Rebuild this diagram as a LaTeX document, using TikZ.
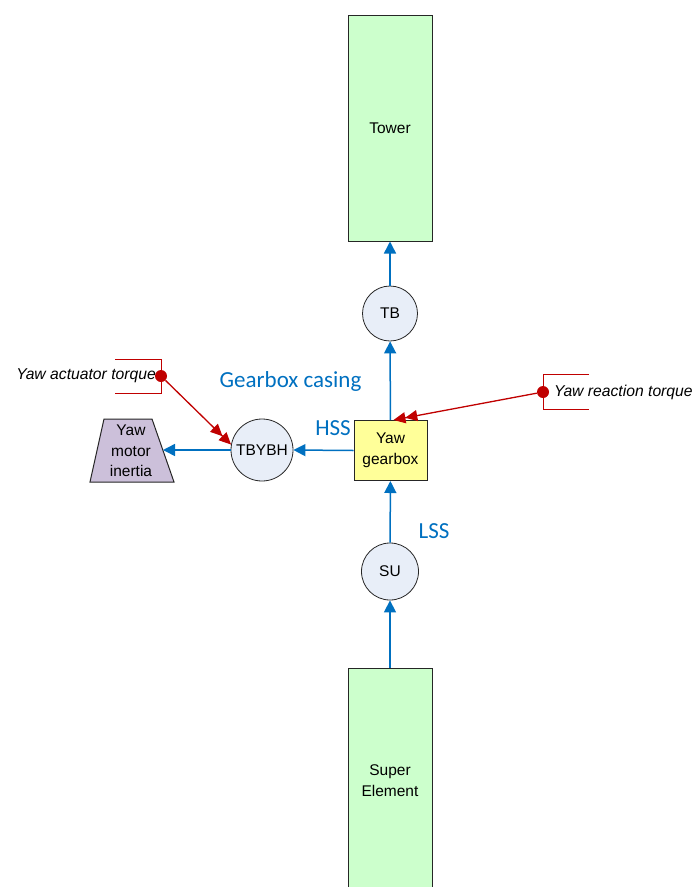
\documentclass[tikz,border=0pt]{standalone}
\usepackage{fontspec}
\setmainfont{Liberation Sans}
\newfontfamily\calibrifont{Carlito}
\usetikzlibrary{arrows.meta}
\definecolor{bluel}{RGB}{0,112,192}
\definecolor{redl}{RGB}{192,0,0}
\definecolor{greenf}{RGB}{204,255,204}
\definecolor{yellowf}{RGB}{255,255,153}
\definecolor{circf}{RGB}{232,238,248}
\definecolor{lavf}{RGB}{204,192,218}
\begin{document}
\begin{tikzpicture}[x=1pt,y=-1pt,
  font=\fontsize{15.5}{20.5}\selectfont,
  body/.style={draw=black!85, line width=1pt, fill=greenf, minimum width=84pt, inner sep=0pt, align=center},
  joint/.style={circle, draw=black!85, line width=0.8pt, fill=circf, inner sep=0pt},
  gear/.style={draw=black!85, line width=1pt, fill=yellowf, minimum width=73pt, minimum height=60pt, inner sep=0pt, align=center},
  flow/.style={draw=bluel, line width=1.5pt, -{Triangle[length=12pt,width=12pt]}},
  load/.style={draw=redl, line width=1.3pt, -{Triangle[length=12pt,width=11pt] Triangle[length=12pt,width=11pt]}},
  bracket/.style={draw=redl, line width=1pt},
  dot/.style={circle, fill=redl, minimum size=12pt, inner sep=0pt},
  itl/.style={inner sep=0pt, font=\itshape\fontsize{15.7}{18}\selectfont},
  lbl/.style={text=bluel, font=\calibrifont\fontsize{23}{27}\selectfont, inner sep=0pt, anchor=base},
]
\useasboundingbox (0,0) rectangle (695,887);

% bodies
\node[body, minimum height=226pt] (tower) at (390,128) {Tower};
\node[body, minimum height=225pt] (super) at (390,780.5) {Super\\Element};
\node[joint, minimum size=55pt] (tb) at (390,313.5) {TB};
\node[joint, minimum size=57pt] (su) at (390,571.5) {SU};
\node[joint, minimum size=62pt] (tbybh) at (262,450) {TBYBH};
\node[gear] (gb) at (390.5,450.5) {Yaw\\gearbox};

% motor inertia (trapezoid)
\draw[draw=black!85, line width=1pt, fill=lavf] (104,419) -- (152,419) -- (174,482) -- (90,482) -- cycle;
\node[align=center, inner sep=0pt] (motor) at (131,451) {Yaw\\motor\\inertia};
\coordinate (motorR) at (163,450);

% torque inputs
\draw[bracket] (115,359) -- (161,359) -- (161,393) -- (115,393);
\node[dot] (act) at (161,376) {};
\node[itl, anchor=east] (acttxt) at (156,376) {Yaw actuator torque};

\draw[bracket] (589,374) -- (543,374) -- (543,409) -- (589,409);
\node[dot] (react) at (543,392) {};
\node[itl, anchor=west] (reacttxt) at (554,392) {Yaw reaction torque};

% labels
\node[lbl] (casing) at (290.5,387) {Gearbox casing};
\node[lbl] (hss) at (333,435) {HSS};
\node[lbl] (lss) at (434,538) {LSS};

% connectors
\draw[flow] (tb) -- (tower);
\draw[flow] (gb) -- (tb);
\draw[flow] (su) -- (gb);
\draw[flow] (super) -- (su);
\draw[flow] (gb.west) -- (tbybh.east);
\draw[flow] (tbybh.west) -- (motorR);
\draw[load] (act) -- (tbybh.170);
\draw[load] (react) -- ([xshift=3pt]gb.north);
\end{tikzpicture}
\end{document}
